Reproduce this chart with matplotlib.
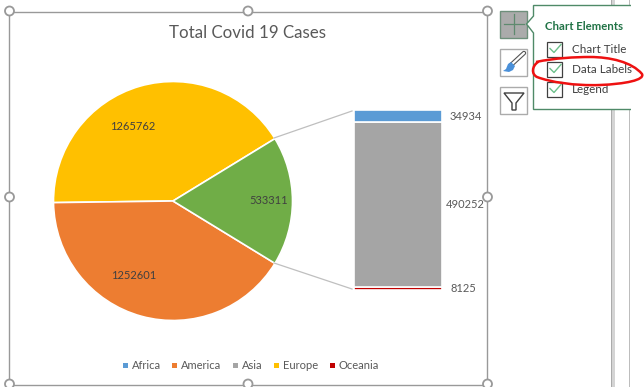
import matplotlib
matplotlib.use("Agg")
import matplotlib.pyplot as plt
from matplotlib.patches import Rectangle, Circle, Polygon, PathPatch
from matplotlib.path import Path

plt.rcParams['font.family'] = ['Lato', 'DejaVu Sans']

W, H = 644, 387
pie_labels = ["Europe", "America", "Asia"]
pie_values = [1265762, 1252601, 533311]
pie_colors = ["#FFC000", "#ED7D31", "#70AD47"]
stack_labels = ["Oceania", "Asia", "Africa"]
stack_values = [8125, 490252, 34934]
stack_colors = ["#C00000", "#A5A5A5", "#5B9BD5"]
legend_labels = ["Africa", "America", "Asia", "Europe", "Oceania"]
legend_colors = ["#5B9BD5", "#ED7D31", "#A5A5A5", "#FFC000", "#C00000"]
menu_items = ["Chart Title", "Data Labels", "Legend"]
title = "Total Covid 19 Cases"
TXT = "#595959"

fig = plt.figure(figsize=(W/100, H/100), dpi=100, facecolor="white")

def axpx(x0, y0, x1, y1, **kw):
    return fig.add_axes([x0/W, 1-y1/H, (x1-x0)/W, (y1-y0)/H], **kw)

# overlay in pixel coordinates for window furniture
ov = axpx(0, 0, W, H, zorder=5)
ov.set_xlim(0, W); ov.set_ylim(H, 0); ov.axis("off"); ov.patch.set_alpha(0)

# pie
R = 119.5
cx, cy = 173, 201
pa = axpx(cx-R, cy-R, cx+R, cy+R, zorder=2)
pa.pie(pie_values, colors=pie_colors, startangle=360*pie_values[2]/sum(pie_values)/2,
       radius=1, wedgeprops=dict(edgecolor="white", linewidth=1.2))
pa.set_xlim(-1, 1); pa.set_ylim(-1, 1)
pie_text_pos = [(132.5, 126), (134, 275.5), (269, 200.5)]
for v, (x, y) in zip(pie_values, pie_text_pos):
    ov.text(x, y, str(v), ha="center", va="center", fontsize=8, color="#404040")

# stacked bar
ba = axpx(353.5, 110.5, 441.5, 289.5, zorder=2)
bottom = 0
for v, c in zip(stack_values, stack_colors):
    ba.bar(0, v, bottom=bottom, width=1, color=c, edgecolor="white", linewidth=1.2)
    bottom += v
ba.set_xlim(-.5, .5); ba.set_ylim(0, sum(stack_values)); ba.axis("off")
for v, y, x in zip(stack_values, [288.5, 204.5, 116.5], [463, 465, 466]):
    ov.text(x, y, str(v), ha="center", va="center", fontsize=8, color=TXT)

# connector lines
ov.plot([274, 352], [138, 111], color="#BFBFBF", lw=0.9)
ov.plot([274, 352], [263, 289], color="#BFBFBF", lw=0.9)

ov.text(248, 32.5, title, ha="center", va="center", fontsize=12.2, color=TXT)

# legend
leg_sq = [123, 172, 233, 274, 330]
leg_tx = [131.5, 181, 242, 283, 339]
for c, l, sx, tx in zip(legend_colors, legend_labels, leg_sq, leg_tx):
    ov.add_patch(Rectangle((sx, 363), 5, 5, color=c, lw=0))
    ov.text(tx, 365.5, l, ha="left", va="center", fontsize=8, color=TXT)

# chart frame and handles
FR = "#999999"
ov.add_patch(Rectangle((9.5, 11.5), 478, 373, fill=False, ec=FR, lw=1))
for hx, hy in [(9.5, 11), (248, 11), (487.5, 11), (9.5, 197), (487.5, 197),
               (9.5, 384), (248, 384), (487.5, 384)]:
    ov.add_patch(Circle((hx, hy), 4.5, fc="white", ec=FR, lw=1.3, zorder=6))

# window bars behind the panel
for y0, y1 in [(0, 5), (110, H)]:
    ov.add_patch(Rectangle((611, y0), 1.5, y1-y0, color="#ABABAB", lw=0))
    ov.add_patch(Rectangle((612.5, y0), 3, y1-y0, color="#D4D4D4", lw=0))
    ov.add_patch(Rectangle((629, y0), 1.5, y1-y0, color="#BDBDBD", lw=0))

# side buttons
ov.add_patch(Rectangle((500.5, 10.5), 27, 27, fc="#ABABAB", ec="#6E8F7B", lw=1))
ov.plot([514, 514], [14, 34], color="#5E8A6E", lw=0.9)
ov.plot([504, 524], [24, 24], color="#5E8A6E", lw=0.9)
ov.add_patch(Rectangle((500.5, 48.5), 27, 27, fc="white", ec="#ABABAB", lw=1))
ov.plot([511, 524], [65, 53], color="#555555", lw=3.2, solid_capstyle="round")
ov.plot([511, 524], [65, 53], color="white", lw=1.6, solid_capstyle="round")
ov.add_patch(Polygon([[503, 71], [506, 69], [508, 64], [511, 62], [515, 66], [513, 70], [509, 72]],
                     color="#4A90D9", lw=0, zorder=6))
ov.add_patch(Rectangle((500.5, 86.5), 27, 27, fc="white", ec="#ABABAB", lw=1))
ov.add_patch(Polygon([[504, 93], [524, 93], [516, 103], [516, 110], [512, 110], [512, 103]],
                     fc="white", ec="#404040", lw=1))

# chart elements panel
ov.add_patch(Polygon([[631, 5.5], [533.5, 5.5], [533.5, 16], [526.5, 24], [533.5, 33],
                      [533.5, 109.5], [631, 109.5]], fc="white", ec="#4F8A68", lw=1, closed=False))
ov.text(545, 26, "Chart Elements", ha="left", va="center", fontsize=8.2, fontweight="bold", color="#217346")
for lab, y in zip(menu_items, [49.5, 69.5, 89.5]):
    ov.add_patch(Rectangle((547.5, y-8), 15, 15, fc="white", ec="#404040", lw=0.9))
    ov.plot([550, 554, 561], [y-1, y+3, y-5], color="#6CC08B", lw=1)
    ov.text(572, y, lab, ha="left", va="center", fontsize=8.4, color="#404040")

# red hand-drawn ellipse
verts = [(536, 62), (555, 58), (575, 57), (590, 57),
         (610, 57), (632, 62), (642, 74),
         (645, 80), (625, 84), (600, 85),
         (575, 86), (550, 82), (537, 77),
         (531, 74), (532, 66), (538, 62)]
codes = [Path.MOVETO] + [Path.CURVE4]*15
ov.add_patch(PathPatch(Path(verts, codes), fc="none", ec="#EE1111", lw=1.8, zorder=7))

fig.savefig("out.png", dpi=100, facecolor="white")
